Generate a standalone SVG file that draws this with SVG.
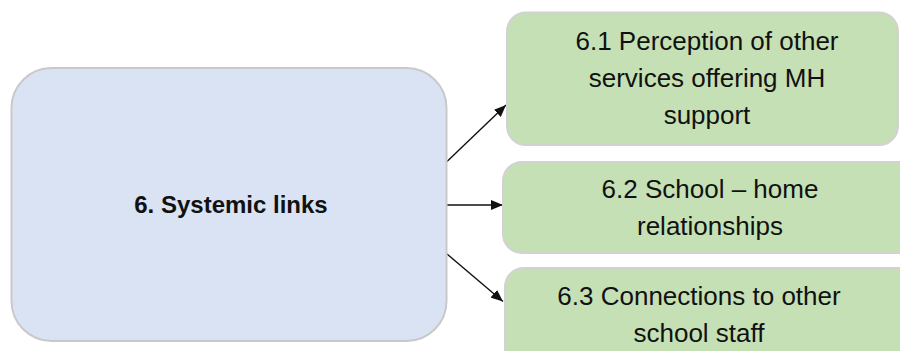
<svg xmlns="http://www.w3.org/2000/svg" width="900" height="351" viewBox="0 0 900 351">
<style>
.main{fill:#dae3f3;stroke:#c9c9c9;stroke-width:2}
.sub{fill:#c5e0b4;stroke:#d2d2d2;stroke-width:2}
.t{font-family:"Liberation Sans",Arial,sans-serif;font-size:26px;fill:#111;text-anchor:middle}
.tb{font-family:"Liberation Sans",Arial,sans-serif;font-size:24px;font-weight:bold;fill:#111;text-anchor:middle}
.c{stroke:#111;stroke-width:1.4;fill:none;marker-end:url(#ah)}
</style>
<defs>
<marker id="ah" viewBox="0 0 12 10" refX="12" refY="5" markerWidth="12" markerHeight="10" markerUnits="userSpaceOnUse" orient="auto">
<path d="M0,0 L12,5 L0,10 Z" fill="#111"/>
</marker>
</defs>
<rect width="900" height="351" fill="#fff"/>
<g id="connectors">
<line class="c" x1="447" y1="161.5" x2="506" y2="105"/>
<line class="c" x1="447" y1="205" x2="503" y2="205"/>
<line class="c" x1="447" y1="254" x2="503" y2="301.5"/>
</g>
<g id="node6">
<rect class="main" x="11.5" y="68" width="435" height="273" rx="40" ry="40"/>
<text class="tb" x="231" y="212.5">6. Systemic links</text>
</g>
<g id="node6-1">
<rect class="sub" x="507" y="12.5" width="391" height="132.5" rx="19" ry="19"/>
<text class="t" x="707" y="49.5">6.1 Perception of other</text>
<text class="t" x="707" y="87">services offering MH</text>
<text class="t" x="707" y="124">support</text>
</g>
<g id="node6-2">
<rect class="sub" x="503" y="162" width="420" height="91" rx="19" ry="19"/>
<text class="t" x="710" y="198">6.2 School – home</text>
<text class="t" x="710" y="235">relationships</text>
</g>
<g id="node6-3">
<rect class="sub" x="505" y="268" width="420" height="110" rx="19" ry="19"/>
<text class="t" x="699" y="305">6.3 Connections to other</text>
<text class="t" x="699" y="341.5">school staff</text>
</g>
</svg>
